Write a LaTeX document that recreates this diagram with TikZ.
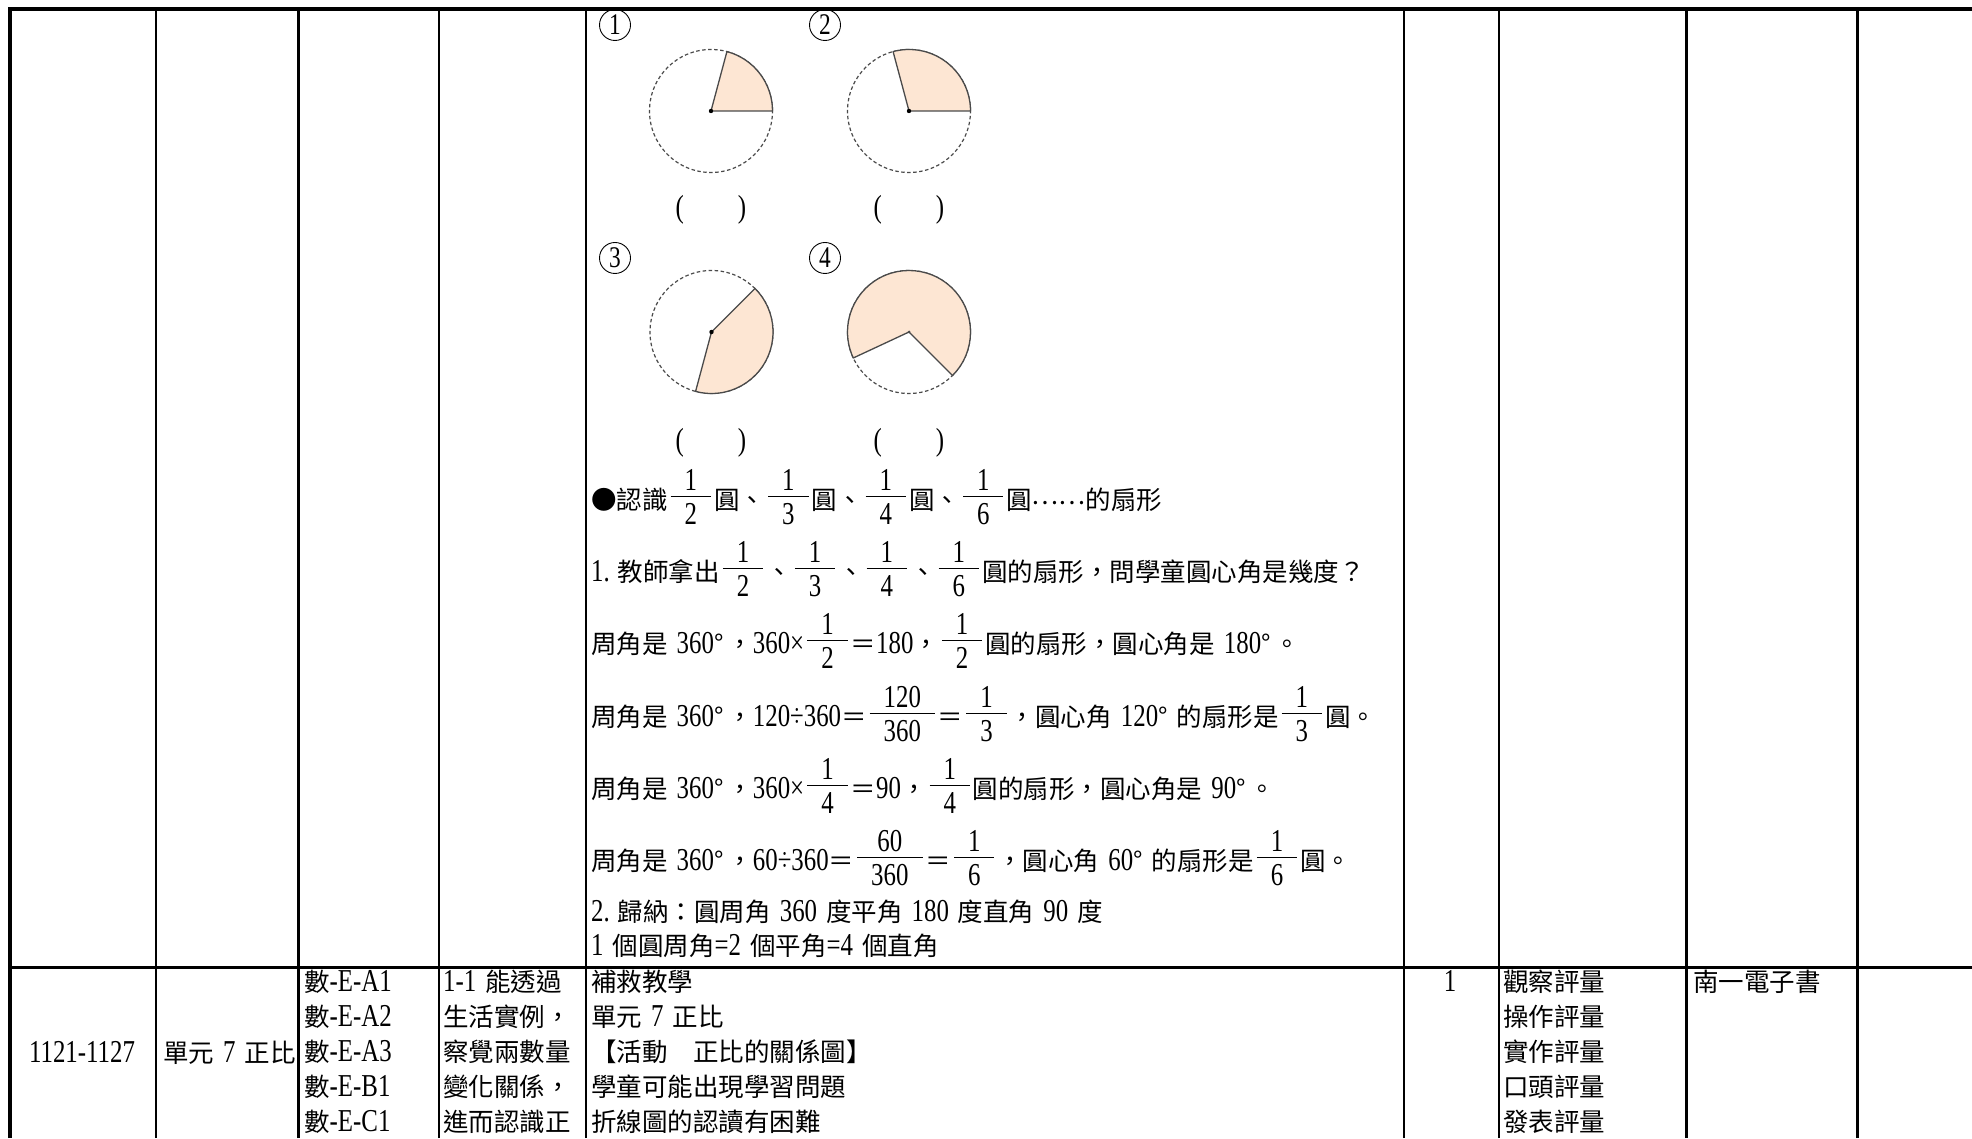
\documentclass[tikz,border=0pt]{standalone}
\usepackage{fontspec}
\setmainfont{Noto Sans CJK TC}
\newfontfamily\numf[FakeStretch=0.78,Scale=1.25]{Liberation Serif}
\definecolor{peach}{HTML}{FDE6D3}
\definecolor{edge}{HTML}{4A4A4A}
\newcommand\myhs{\hspace{9pt}}
\newcommand\myfr[2]{\kern3pt\raisebox{-14.7pt}{\vbox{\offinterlineskip\halign{\hfil\kern14pt##\kern14pt\hfil\cr
  \vrule height 24pt depth 5pt width 0pt\relax\numf #1\cr
  \noalign{\hrule height 1.4pt}
  \vrule height 27pt depth 2pt width 0pt\relax\numf #2\cr}}}\kern3pt}
\begin{document}
\begin{tikzpicture}[x=1pt,y=1pt,
  txt/.style={font=\fontsize{25.5}{35}\selectfont, inner sep=0pt, anchor=base west},
  ctxt/.style={font=\fontsize{25.5}{35}\selectfont, inner sep=0pt, anchor=base},
  gridline/.style={line width=2.2pt, black},
  dashcircle/.style={draw=edge, line width=1.2pt, dash pattern=on 3.5pt off 2.5pt},
  sector/.style={fill=peach, draw=edge, line width=1.3pt, line join=round},
  cnum/.style={circle, draw, line width=0.9pt, minimum size=31pt, inner sep=0pt, font=\fontsize{24}{30}\selectfont\numf},
  paren/.style={font=\fontsize{25.5}{30}\selectfont\numf, inner sep=0pt}]
\useasboundingbox (0,0) rectangle (1972,1138);
\fill[white] (0,0) rectangle (1972,1138);

% table lines
\draw[line width=4.5pt] (8,1129) -- (1972,1129);
\draw[line width=3.5pt] (10,0) -- (10,1131);
\foreach \x in {156,298.5,439,586,1404,1499,1686.5,1857.5} \draw[gridline] (\x,0) -- (\x,1129);
\draw[line width=3pt] (10,171) -- (1972,171);

% circles
\coordinate (c1) at (711,1027);
\coordinate (c2) at (909,1027);
\coordinate (c3) at (711.5,806);
\coordinate (c4) at (909,806);
\foreach \c in {c1,c2,c3,c4} \draw[dashcircle] (\c) circle[radius=61.5];
\filldraw[sector] (c1) -- ++(0:61.5) arc[start angle=0,end angle=75,radius=61.5] -- cycle;
\filldraw[sector] (c2) -- ++(0:61.5) arc[start angle=0,end angle=105,radius=61.5] -- cycle;
\filldraw[sector] (c3) -- ++(-105:61.5) arc[start angle=-105,end angle=45,radius=61.5] -- cycle;
\filldraw[sector] (c4) -- ++(-45:61.5) arc[start angle=-45,end angle=205,radius=61.5] -- cycle;
\foreach \c in {c1,c2,c3} \fill (\c) circle[radius=2.2];
\fill[edge] (c4) circle[radius=1.5];

\node[cnum] (n1) at (615,1113) {1};
\node[cnum] (n2) at (825,1113) {2};
\node[cnum] (n3) at (615,880) {3};
\node[cnum] (n4) at (825,880) {4};

\node[paren] (p1) at (711,928) {(\hspace{54pt})};
\node[paren] (p2) at (909,928) {(\hspace{54pt})};
\node[paren] (p3) at (711,695) {(\hspace{54pt})};
\node[paren] (p4) at (909,695) {(\hspace{54pt})};

% text lines
\node[txt] (l1) at (591,628.5) {●認識\myfr{1}{2}圓、\myfr{1}{3}圓、\myfr{1}{4}圓、\myfr{1}{6}圓\raisebox{5pt}{……}的扇形};
\node[txt] (l2) at (591,556.5) {{\numf 1.}\hspace{8pt}教師拿出\myfr12、\myfr13、\myfr14、\myfr16圓的扇形，問學童圓心角是幾度？};
\node[txt] (l3) at (591,484.5) {周角是\myhs{\numf 360}°\hspace{4pt}，{\numf 360×}\myfr12＝{\numf 180}，\myfr12圓的扇形，圓心角是\myhs{\numf 180}°\hspace{4pt}。};
\node[txt] (l4) at (591,411.5) {周角是\myhs{\numf 360}°\hspace{4pt}，{\numf 120÷360}＝\myfr{120}{360}＝\myfr13，圓心角\myhs{\numf 120}°\myhs 的扇形是\myfr13圓。};
\node[txt] (l5) at (591,339.5) {周角是\myhs{\numf 360}°\hspace{4pt}，{\numf 360×}\myfr14＝{\numf 90}，\myfr14圓的扇形，圓心角是\myhs{\numf 90}°\hspace{4pt}。};
\node[txt] (l6) at (591,267.5) {周角是\myhs{\numf 360}°\hspace{4pt}，{\numf 60÷360}＝\myfr{60}{360}＝\myfr16，圓心角\myhs{\numf 60}°\myhs 的扇形是\myfr16圓。};
\node[txt] (l7) at (591,216.5) {{\numf 2.}\hspace{8pt}歸納：圓周角\myhs{\numf 360}\myhs 度平角\myhs{\numf 180}\myhs 度直角\myhs{\numf 90}\myhs 度};
\node[txt] (l8) at (591,182.5) {{\numf 1}\myhs 個圓周角{\numf =2}\myhs 個平角{\numf =4}\myhs 個直角};

% bottom row
\node[ctxt] (week) at (82,75.5) {{\numf 1121-1127}};
\node[txt] (unit) at (163,75.5) {單元\myhs{\numf 7}\myhs 正比};
\foreach \t [count=\i] in {{數{\numf -E-A1}},{數{\numf -E-A2}},{數{\numf -E-A3}},{數{\numf -E-B1}},{數{\numf -E-C1}}}
  \node[txt] (ca\i) at (304,181.5-35*\i) {\t};
\foreach \t [count=\i] in {{{\numf 1-1}\myhs 能透過},{生活實例，},{察覺兩數量},{變化關係，},{進而認識正}}
  \node[txt] (cb\i) at (443,181.5-35*\i) {\t};
\foreach \t [count=\i] in {{補救教學},{單元\myhs{\numf 7}\myhs 正比},{【活動　正比的關係圖】},{學童可能出現學習問題},{折線圖的認讀有困難}}
  \node[txt] (cc\i) at (591,181.5-35*\i) {\t};
\node[ctxt] (hours) at (1450,146.5) {{\numf 1}};
\foreach \t [count=\i] in {{觀察評量},{操作評量},{實作評量},{口頭評量},{發表評量}}
  \node[txt] (cd\i) at (1503,181.5-35*\i) {\t};
\node[txt] (res) at (1693,146.5) {南一電子書};
\end{tikzpicture}
\end{document}
